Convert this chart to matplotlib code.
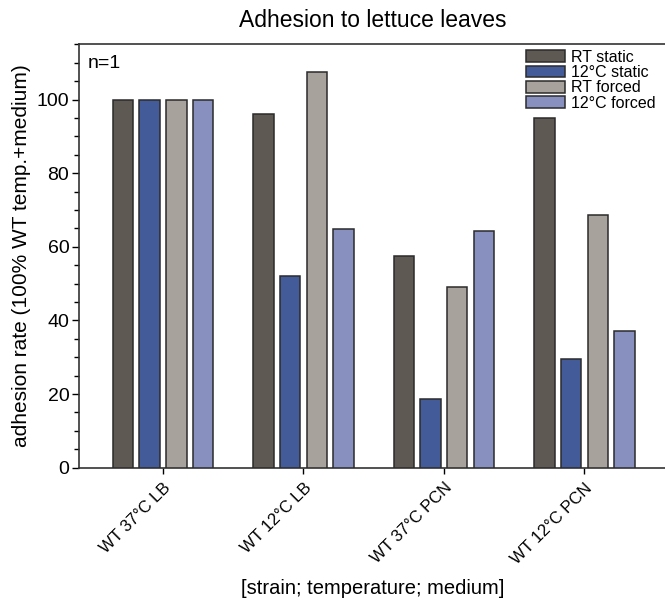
import matplotlib
matplotlib.use("Agg")
import matplotlib.pyplot as plt
import matplotlib.transforms as mtransforms
import numpy as np
from matplotlib.ticker import MultipleLocator

plt.rcParams['font.family'] = ['Liberation Sans', 'DejaVu Sans']

categories = ["WT 37°C LB", "WT 12°C LB", "WT 37°C PCN", "WT 12°C PCN"]
series_names = ["RT static", "12°C static", "RT forced", "12°C forced"]
rt_static = [100, 96.0, 57.5, 95.1]
c12_static = [100, 52.0, 18.6, 29.4]
rt_forced = [100, 107.5, 49.0, 68.6]
c12_forced = [100, 64.8, 64.2, 37.1]
colors = ["#5e5953", "#435b98", "#a8a29d", "#8890c0"]

series = [rt_static, c12_static, rt_forced, c12_forced]

fig = plt.figure(figsize=(6.65, 6.02), dpi=100)
ax = fig.add_axes([0.1188, 0.2231, 0.884, 0.7033])

x = np.arange(1, len(categories) + 1)
step = 0.19
width = 0.145
for i, (vals, name, col) in enumerate(zip(series, series_names, colors)):
    ax.bar(x + (i - 1.5) * step, vals, width=width, color=col,
           edgecolor="#2b2b2b", linewidth=1.1, label=name, zorder=3)

ax.set_xlim(0.402, 4.587)
ax.set_ylim(0, 115)
ax.set_xticks(x)
ax.set_xticklabels(categories, rotation=45, ha="right", va="top",
                   rotation_mode="anchor", fontsize=12)
shift = mtransforms.ScaledTranslation(5 / 72, 0, fig.dpi_scale_trans)
for lbl in ax.get_xticklabels():
    lbl.set_transform(lbl.get_transform() + shift)

ax.yaxis.set_major_locator(MultipleLocator(20))
ax.yaxis.set_minor_locator(MultipleLocator(5))
ax.tick_params(axis="y", which="major", length=5, width=1, labelsize=14,
               pad=2, direction="out")
ax.tick_params(axis="y", which="minor", length=3.6, width=1, direction="out")
ax.tick_params(axis="x", which="major", length=4.5, width=1, pad=4.5,
               direction="out")

for s in ax.spines.values():
    s.set_linewidth(1.2)
    s.set_color("#333333")

ax.set_ylabel("adhesion rate (100% WT temp.+medium)", fontsize=15, labelpad=4)
ax.set_xlabel("[strain; temperature; medium]", fontsize=14.5)
ax.xaxis.set_label_coords(0.5, -0.262)
ax.set_title("Adhesion to lettuce leaves", fontsize=16.5, pad=12.5)

ax.text(0.015, 0.975, "n=1", transform=ax.transAxes, fontsize=14,
        ha="left", va="top")

leg = ax.legend(loc="upper right", bbox_to_anchor=(0.998, 1.01), frameon=False,
                fontsize=11.5, handlelength=2.45, handleheight=0.75,
                labelspacing=0.02, handletextpad=0.4, borderaxespad=0.2)

fig.savefig("out.png", dpi=100)
